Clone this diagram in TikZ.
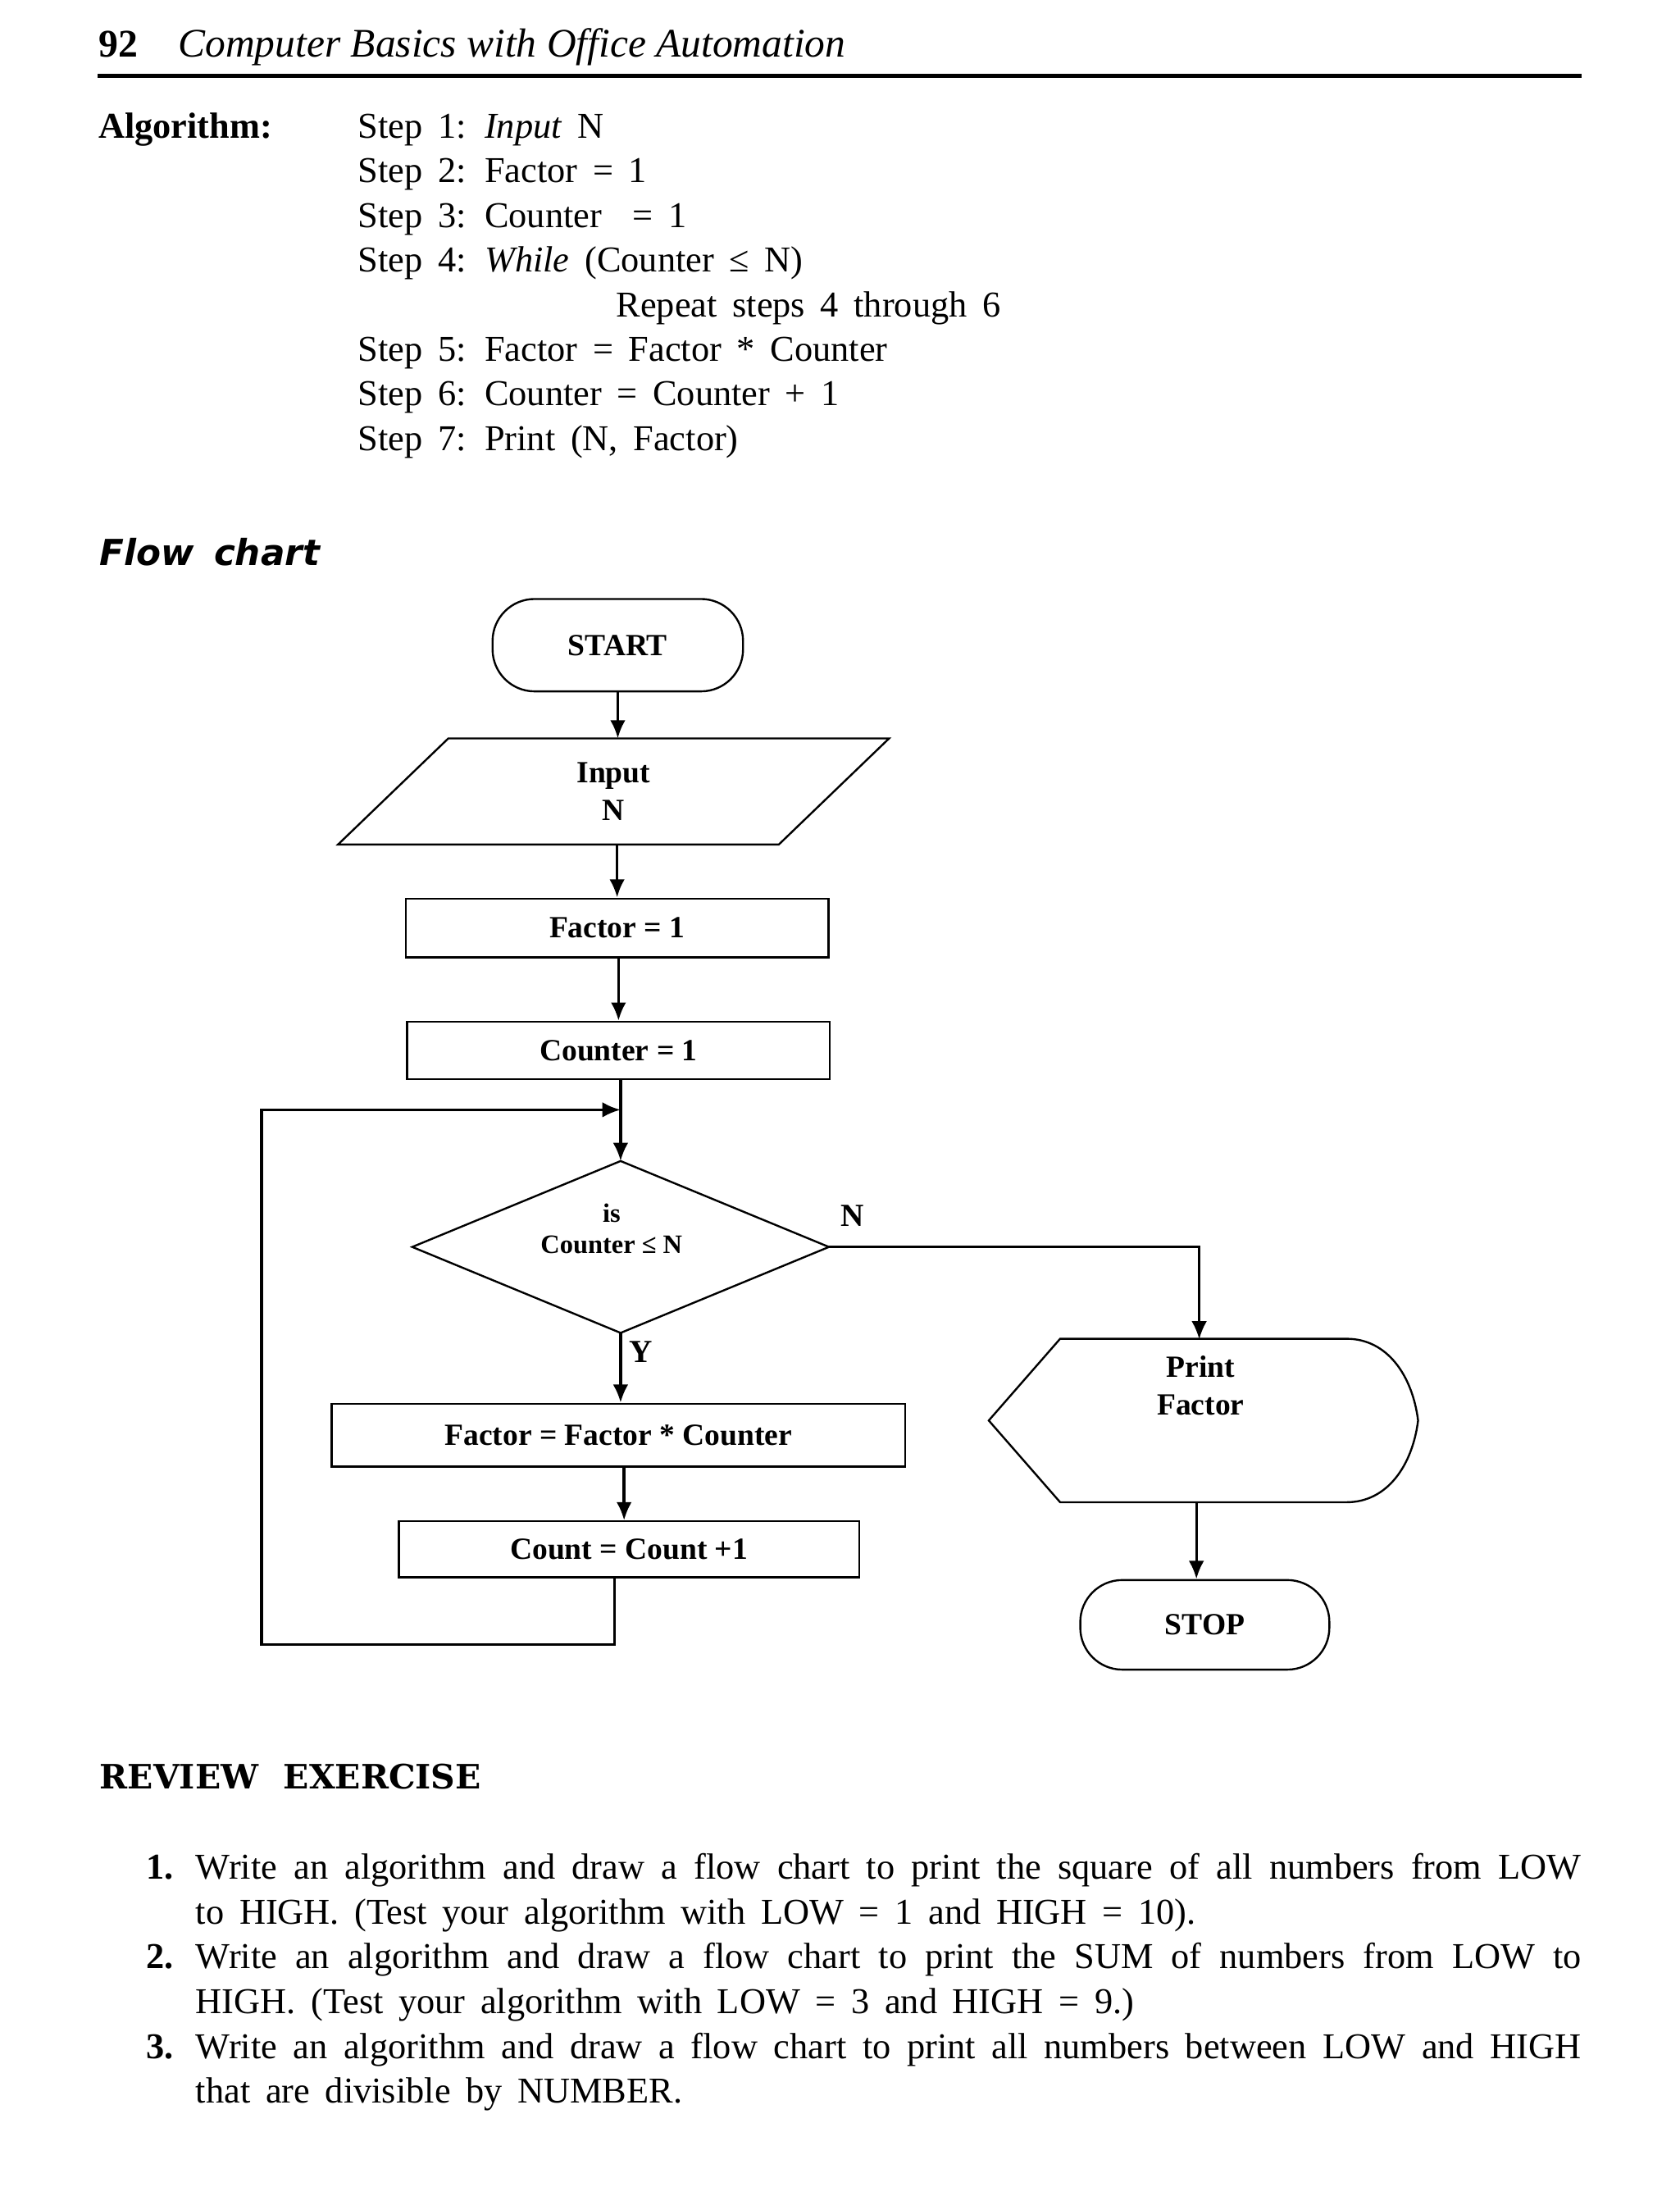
\documentclass[tikz,border=0pt]{standalone}
\usepackage{fontspec}
\setmainfont{Liberation Serif}
\newfontfamily\flowfont{DejaVu Sans}
\newfontfamily\revfont{DejaVu Serif}
\usetikzlibrary{calc,arrows.meta}
\newcommand{\wsp}{\spaceskip=0.42em plus 0.3em minus 0.08em\relax}
\begin{document}
\begin{tikzpicture}[x=0.5pt,y=-0.5pt,
  body/.style={anchor=base west,inner sep=0pt,font=\fontsize{13}{16}\selectfont\wsp},
  bodyb/.style={anchor=base west,inner sep=0pt,font=\bfseries\fontsize{13}{16}\selectfont},
  shp/.style={draw,line width=0.7pt},
  proc/.style={draw,line width=0.7pt,inner sep=0pt,font=\bfseries\fontsize{11}{13.5}\selectfont},
  term/.style={proc,rounded corners=15pt},
  hold/.style={inner sep=0pt,align=center,font=\bfseries\fontsize{11}{13.5}\selectfont},
  arr/.style={line width=1pt,-{Latex[length=6.5pt,width=5.5pt]}},
  con/.style={line width=1pt}]
\useasboundingbox (0,0) rectangle (1200,1569.14);
% header
\node[anchor=base west,inner sep=0pt,font=\bfseries\fontsize{14}{16}\selectfont] (pg) at (70,41) {92};
\node[anchor=base west,inner sep=0pt,font=\itshape\fontsize{14.5}{16}\selectfont] (ttl) at (127,41) {Computer Basics with Office Automation};
\draw[line width=1.5pt] (70,54) -- (1130,54);
% algorithm
\node[bodyb] (alg) at (70,98.6) {Algorithm:};
\node[body] (s1) at (255.5,98.6) {Step 1: \textit{Input} N};
\node[body] (s2) at (255.5,130.5) {Step 2: Factor = 1};
\node[body] (s3) at (255.5,162.4) {Step 3: Counter~~= 1};
\node[body] (s4) at (255.5,194.3) {Step 4: \textit{While} (Counter ≤ N)};
\node[body] (s4b) at (440,226.2) {Repeat steps 4 through 6};
\node[body] (s5) at (255.5,258.1) {Step 5: Factor = Factor * Counter};
\node[body] (s6) at (255.5,290) {Step 6: Counter = Counter + 1};
\node[body] (s7) at (255.5,321.9) {Step 7: Print (N, Factor)};
% flow chart title
\node[anchor=base west,inner sep=0pt,font=\flowfont\bfseries\itshape\fontsize{12.8}{16}\selectfont] (fct) at (71,404) {Flow\hspace{0.2em} chart};
% flowchart
\node[term,minimum width=89.5pt,minimum height=33pt] (start) at (441.5,461) {START};
\node[hold,minimum width=196.5pt,minimum height=37.5pt] (inp) at (438.5,565.5) {Input\\N};
\draw[shp] (inp.south west) -- ($(inp.south west)+(315,0)$) -- (inp.north east) -- ($(inp.north east)+(-315,0)$) -- cycle;
\node[proc,minimum width=151pt,minimum height=21pt] (f1) at (441,663) {Factor = 1};
\node[proc,minimum width=151pt,minimum height=20.5pt] (c1) at (442,750.5) {Counter = 1};
\node[hold,minimum width=148.5pt,minimum height=61pt] (dec) at (443.5,891) {};
\draw[shp] (dec.north) -- (dec.east) -- (dec.south) -- (dec.west) -- cycle;
\node[hold,font=\bfseries\fontsize{9.5}{11}\selectfont] (dtx) at (437,878) {is\\Counter ≤ N};
\node[proc,minimum width=205pt,minimum height=22.5pt] (ff) at (442,1025.5) {Factor = Factor * Counter};
\node[proc,minimum width=164.5pt,minimum height=20pt] (cnt) at (449.5,1107) {Count = Count +1};
\node[hold,minimum width=153pt,minimum height=58pt] (prt) at (860,1015) {};
\draw[shp] (prt.west) -- ($(prt.north west)+(51,0)$) -- ($(prt.north east)+(-51,0)$)
  .. controls ($(prt.north east)+(-22,0)$) and ($(prt.east)+(-4,-32)$) .. (prt.east)
  .. controls ($(prt.east)+(-4,32)$) and ($(prt.south east)+(-22,0)$) .. ($(prt.south east)+(-51,0)$)
  -- ($(prt.south west)+(51,0)$) -- cycle;
\node[hold] (ptx) at (858,990) {Print\\Factor};
\node[term,minimum width=89pt,minimum height=32pt] (stop) at (861,1161) {STOP};
\node[hold,font=\bfseries\fontsize{11.5}{13}\selectfont] (lN) at (609,869) {N};
\node[hold,font=\bfseries\fontsize{11.5}{13}\selectfont] (lY) at (458,966) {Y};
% connectors
\coordinate (lpL) at (187,1175);
\coordinate (lpJ) at (443.5,793);
\coordinate (ptop) at (857,957);
\coordinate (pbot) at (855,1073);
\draw[arr] (start.south) -- (start.south |- inp.north);
\draw[arr] (f1.north |- inp.south) -- (f1.north);
\draw[arr] (c1.north |- f1.south) -- (c1.north);
\draw[arr] (dec.north |- c1.south) -- (dec.north);
\draw[arr] ([xshift=-5.25pt]cnt.south) |- (lpL) |- (lpJ);
\draw[arr,line width=0.8pt] (dec.east) -| (ptop);
\draw[arr] (dec.south) -- (dec.south |- ff.north);
\draw[arr] ([xshift=-1.75pt]cnt.north |- ff.south) -- ([xshift=-1.75pt]cnt.north);
\draw[arr] (pbot) -- (pbot |- stop.north);
% review exercise
\node[anchor=base west,inner sep=0pt,font=\revfont\bfseries\fontsize{12}{15}\selectfont] (rev) at (71,1278.3) {REVIEW\hspace{0.4em} EXERCISE};
\node[bodyb] (n1) at (103.9,1342.8) {1.};
\node[bodyb] (n2) at (103.9,1406.8) {2.};
\node[bodyb] (n3) at (103.9,1470.8) {3.};
\node[body] (l1) at (139.6,1342.8) {\makebox[495pt][s]{Write an algorithm and draw a flow chart to print the square of all numbers from LOW}};
\node[body] (l2) at (139.6,1374.8) {to HIGH. (Test your algorithm with LOW = 1 and HIGH = 10).};
\node[body] (l3) at (139.6,1406.8) {\makebox[495pt][s]{Write an algorithm and draw a flow chart to print the SUM of numbers from LOW to}};
\node[body] (l4) at (139.6,1438.8) {HIGH. (Test your algorithm with LOW = 3 and HIGH = 9.)};
\node[body] (l5) at (139.6,1470.8) {\makebox[495pt][s]{Write an algorithm and draw a flow chart to print all numbers between LOW and HIGH}};
\node[body] (l6) at (139.6,1502.8) {that are divisible by NUMBER.};
\end{tikzpicture}
\end{document}
